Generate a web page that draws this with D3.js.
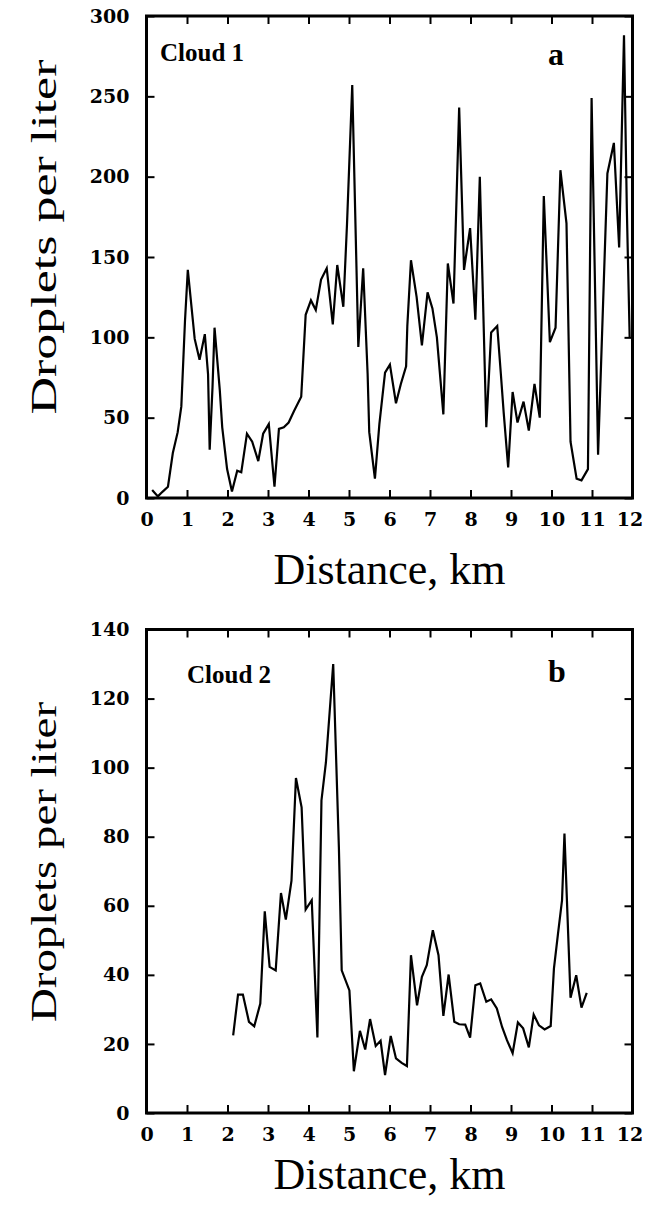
<!DOCTYPE html>
<html>
<head>
<meta charset="utf-8">
<script src="https://cdn.jsdelivr.net/npm/d3@7/dist/d3.min.js"></script>
<style>
body { margin: 0; background: #fff; }
.axis text { font-family: "DejaVu Serif"; font-weight: bold; font-size: 19px; fill: #000; }
.axis line { stroke: #000; stroke-width: 2; }
.axis path { display: none; }
.frame { fill: none; stroke: #000; stroke-width: 3; }
.trace { fill: none; stroke: #000; stroke-width: 2.2; stroke-linejoin: miter; }
.ylabel, .xlabel { font-family: "Liberation Serif", "Times New Roman", serif; fill: #000; }
.cloud { font-family: "Liberation Serif", serif; font-weight: bold; font-size: 25px; }
.letter { font-family: "Liberation Serif", serif; font-weight: bold; font-size: 32px; }
</style>
</head>
<body>
<div id="chart"></div>
<script>
// distance along track (km) and droplet counts (per liter)
const cloud1X = [0.14, 0.28, 0.40, 0.53, 0.65, 0.77, 0.86, 0.95, 1.02, 1.19, 1.31, 1.44, 1.52, 1.56, 1.63, 1.68,
    1.81, 1.87, 1.99, 2.11, 2.24, 2.34, 2.48, 2.61, 2.76, 2.88, 3.02, 3.16, 3.27, 3.39, 3.51, 3.64,
    3.82, 3.93, 4.06, 4.18, 4.31, 4.45, 4.60, 4.71, 4.86, 4.95, 5.08, 5.23, 5.35, 5.46, 5.50, 5.64,
    5.75, 5.89, 6.01, 6.16, 6.28, 6.41, 6.44, 6.53, 6.67, 6.80, 6.94, 7.06, 7.17, 7.33, 7.44, 7.58,
    7.72, 7.84, 7.99, 8.12, 8.23, 8.39, 8.51, 8.66, 8.75, 8.82, 8.93, 9.04, 9.16, 9.31, 9.44, 9.58,
    9.71, 9.81, 9.96, 10.10, 10.22, 10.37, 10.47, 10.62, 10.74, 10.90, 10.99, 11.15, 11.38, 11.54,
    11.67, 11.79, 11.86, 11.93];
const cloud1Y = [5, 1, 4, 7, 28, 41, 57, 110, 142, 99, 86, 102, 77, 30, 69, 106,
    67, 44, 18, 4, 17, 16, 40, 35, 23, 40, 46, 7, 43, 44, 47, 54,
    63, 114, 123, 117, 136, 143, 108, 145, 119, 170, 257, 94, 143, 77, 41, 12,
    46, 78, 83, 59, 71, 82, 107, 148, 125, 95, 128, 118, 100, 52, 146, 121,
    243, 142, 168, 111, 200, 44, 103, 107, 77, 53, 19, 66, 47, 60, 42, 71,
    50, 188, 97, 106, 204, 171, 35, 12, 11, 18, 249, 27, 202, 221,
    156, 288, 180, 100];

const cloud2X = [2.14, 2.26, 2.38, 2.53, 2.66, 2.81, 2.92, 3.04, 3.19, 3.32, 3.44, 3.58, 3.69, 3.83,
    3.93, 4.08, 4.22, 4.32, 4.43, 4.61, 4.75, 4.82, 5.01, 5.12, 5.27, 5.40, 5.52, 5.66, 5.78, 5.89,
    6.03, 6.16, 6.30, 6.43, 6.53, 6.68, 6.80, 6.92, 7.07, 7.21, 7.33, 7.46, 7.60, 7.72, 7.87, 7.99,
    8.12, 8.24, 8.39, 8.51, 8.65, 8.78, 8.90, 9.04, 9.17, 9.30, 9.44, 9.56, 9.69, 9.83, 9.98, 10.06,
    10.16, 10.26, 10.32, 10.47, 10.61, 10.74, 10.87];
const cloud2Y = [22.5, 34.3, 34.3, 26.4, 25.1, 31.7, 58.4, 42.3, 41.3, 63.7, 56, 67.3, 97, 88.5,
    58.9, 61.6, 21.9, 90.5, 101.5, 130, 77, 41.3, 35.5, 12.1, 23.8, 18.4, 27.2, 19.4, 20.9, 11,
    22.3, 15.8, 14.5, 13.6, 45.7, 31.2, 39.4, 42.8, 52.9, 45.7, 28.1, 40.1, 26.4, 25.7, 25.6, 21.8,
    37, 37.5, 32.2, 32.9, 30.3, 24.9, 21.1, 17.3, 26.2, 24.5, 19, 28.5, 25.4, 24.2, 25.2, 41.8,
    51.9, 61.6, 80.9, 33.4, 39.9, 30.5, 34.8];

const xTicks = [0, 1, 2, 3, 4, 5, 6, 7, 8, 9, 10, 11, 12];
const yTicks1 = [0, 50, 100, 150, 200, 250, 300];
const yTicks2 = [0, 20, 40, 60, 80, 100, 120, 140];

const W = 645, H = 1206;

const svg = d3.select("#chart").append("svg")
    .attr("width", W)
    .attr("height", H);

function Panel(cfg) {
    this.cfg = cfg;
    this.left = 146.5;
    this.right = 632.5;
}

Panel.prototype = {
    constructor: Panel,

    draw: function() {
        let self = this;
        let c = self.cfg;

        let x = d3.scaleLinear().domain([0, 12]).range([self.left, self.right]);
        let y = d3.scaleLinear().domain([0, c.yMax]).range([c.bottom, c.top]);

        let g = svg.append("g");

        let xAxis = g.append("g")
            .attr("class", "axis")
            .attr("transform", "translate(0," + c.bottom + ")")
            .call(d3.axisBottom(x).tickValues(xTicks).tickSize(-8).tickPadding(15));
        // last label sits on the page edge, pull it in a little
        xAxis.selectAll(".tick text").filter(function(d) { return d === 12; })
            .attr("dx", -3);

        g.append("g")
            .attr("class", "axis")
            .attr("transform", "translate(0," + c.top + ")")
            .call(d3.axisTop(x).tickValues(xTicks).tickSize(-8).tickFormat(""));

        g.append("g")
            .attr("class", "axis")
            .attr("transform", "translate(" + self.left + ",0)")
            .call(d3.axisLeft(y).tickValues(c.yTicks).tickSize(-8).tickPadding(17));

        g.append("g")
            .attr("class", "axis")
            .attr("transform", "translate(" + self.right + ",0)")
            .call(d3.axisRight(y).tickValues(c.yTicks).tickSize(-8).tickFormat(""));

        let line = d3.line()
            .x(function(d, i) { return x(c.xs[i]); })
            .y(function(d) { return y(d); });

        g.append("path")
            .attr("class", "trace")
            .attr("d", line(c.ys));

        g.append("rect")
            .attr("class", "frame")
            .attr("x", self.left)
            .attr("y", c.top)
            .attr("width", self.right - self.left)
            .attr("height", c.bottom - c.top);

        g.append("text")
            .attr("class", "cloud")
            .attr("x", c.nameX)
            .attr("y", c.top + c.nameDy)
            .text(c.name);

        g.append("text")
            .attr("class", "letter")
            .attr("x", 548)
            .attr("y", c.top + c.letterDy)
            .text(c.letter);

        g.append("text")
            .attr("class", "ylabel")
            .attr("transform", "translate(56," + c.labelY + ") rotate(-90)")
            .attr("text-anchor", "middle")
            .attr("font-size", 35)
            .attr("textLength", c.labelLen)
            .attr("lengthAdjust", "spacingAndGlyphs")
            .text("Droplets per liter");

        g.append("text")
            .attr("class", "xlabel")
            .attr("x", (self.left + self.right) / 2)
            .attr("y", c.bottom + c.titleDy)
            .attr("text-anchor", "middle")
            .attr("font-size", 44)
            .text("Distance, km");
    }
};

new Panel({
    xs: cloud1X, ys: cloud1Y, yMax: 300, yTicks: yTicks1,
    top: 16, bottom: 498,
    name: "Cloud 1", nameX: 160, nameDy: 45,
    letter: "a", letterDy: 49,
    labelY: 237, labelLen: 355, titleDy: 86
}).draw();

new Panel({
    xs: cloud2X, ys: cloud2Y, yMax: 140, yTicks: yTicks2,
    top: 629.5, bottom: 1113,
    name: "Cloud 2", nameX: 187, nameDy: 53,
    letter: "b", letterDy: 52,
    labelY: 862, labelLen: 320, titleDy: 76
}).draw();
</script>
</body>
</html>
